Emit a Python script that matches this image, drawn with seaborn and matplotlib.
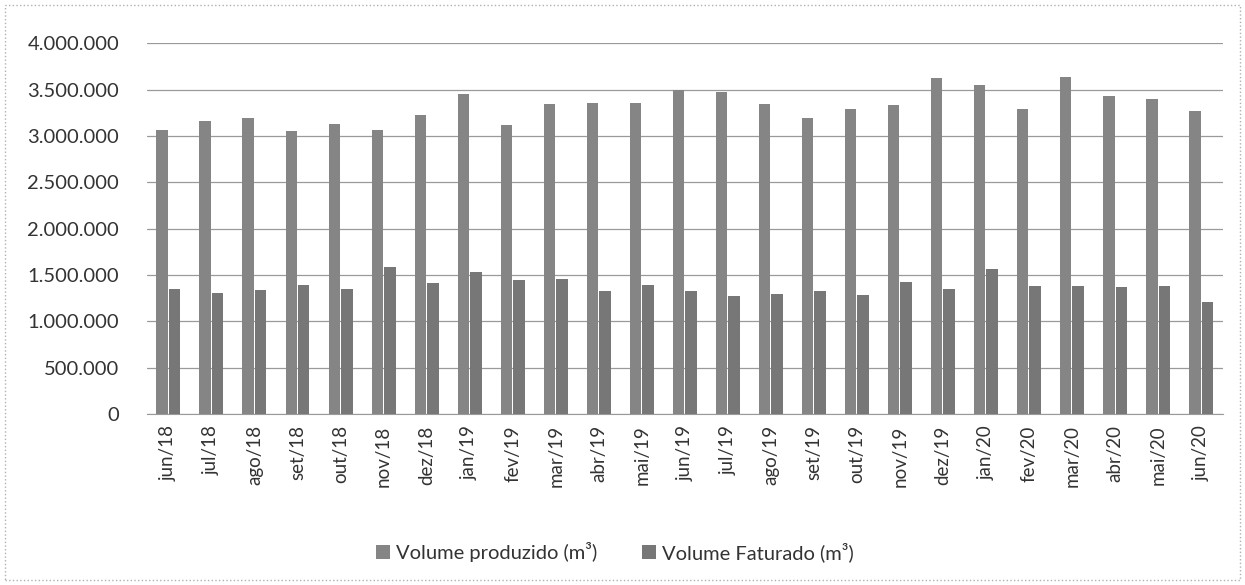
import matplotlib.pyplot as plt
import matplotlib.ticker as mticker
import pandas as pd
import seaborn as sns
from matplotlib.patches import Rectangle

months = [
    "jun/18", "jul/18", "ago/18", "set/18", "out/18", "nov/18", "dez/18",
    "jan/19", "fev/19", "mar/19", "abr/19", "mai/19", "jun/19", "jul/19",
    "ago/19", "set/19", "out/19", "nov/19", "dez/19", "jan/20", "fev/20",
    "mar/20", "abr/20", "mai/20", "jun/20",
]
produzido = [
    3060000, 3160000, 3190000, 3050000, 3130000, 3060000, 3230000,
    3450000, 3120000, 3340000, 3360000, 3360000, 3500000, 3470000,
    3350000, 3190000, 3290000, 3330000, 3630000, 3550000, 3290000,
    3640000, 3430000, 3400000, 3270000,
]
faturado = [
    1350000, 1310000, 1340000, 1390000, 1350000, 1590000, 1420000,
    1530000, 1450000, 1460000, 1330000, 1390000, 1330000, 1270000,
    1300000, 1330000, 1290000, 1430000, 1350000, 1570000, 1380000,
    1380000, 1370000, 1380000, 1210000,
]
series_names = ["Volume produzido (m³)", "Volume Faturado (m³)"]
colors = ["#858585", "#777777"]


def thousands(value, _pos):
    return f"{int(value):,}".replace(",", ".")


def main():
    df = pd.DataFrame({
        "mes": months * 2,
        "volume": produzido + faturado,
        "serie": [series_names[0]] * len(months) + [series_names[1]] * len(months),
    })

    sns.set_style("white")
    plt.rcParams["font.family"] = ["Lato", "DejaVu Sans"]

    fig = plt.figure(figsize=(12.45, 5.85), dpi=100)
    ax = fig.add_axes([0.118, 0.292, 0.864, 0.634])

    sns.barplot(
        data=df, x="mes", y="volume", hue="serie", order=months,
        hue_order=series_names, palette=colors, width=0.58, gap=0.08,
        ax=ax, zorder=3, linewidth=0,
    )

    ax.set_ylim(0, 4000000)
    ax.set_xlim(-0.5, len(months) - 0.5)
    ax.yaxis.set_major_locator(mticker.MultipleLocator(500000))
    ax.yaxis.set_major_formatter(mticker.FuncFormatter(thousands))
    ax.grid(axis="y", color="#9a9a9a", linewidth=0.9, zorder=0)
    ax.set_xlabel("")
    ax.set_ylabel("")

    for side in ["top", "right", "left"]:
        ax.spines[side].set_visible(False)
    ax.spines["bottom"].set_color("#9a9a9a")

    ax.tick_params(axis="y", labelsize=14.5, length=0, pad=20, colors="#333333")
    ax.tick_params(axis="x", labelsize=13.5, length=0, pad=8, colors="#333333")
    plt.setp(ax.get_xticklabels(), rotation=90)

    # small tick marks between categories
    ax.set_xticks([i - 0.5 for i in range(len(months) + 1)], minor=True)
    ax.tick_params(axis="x", which="minor", length=5, color="#9a9a9a")

    ax.legend(
        loc="upper center", bbox_to_anchor=(0.435, -0.295), ncol=2, frameon=False,
        fontsize=14.5, handlelength=0.7, handleheight=0.7, handletextpad=0.3,
        columnspacing=2.2, labelcolor="#333333",
    )

    fig.patches.append(Rectangle(
        (0.004, 0.008), 0.992, 0.984, transform=fig.transFigure, fill=False,
        edgecolor="#b0b0b0", linewidth=1, linestyle=":",
    ))

    fig.savefig("out.png", dpi=100)
    plt.close(fig)


if __name__ == "__main__":
    main()
